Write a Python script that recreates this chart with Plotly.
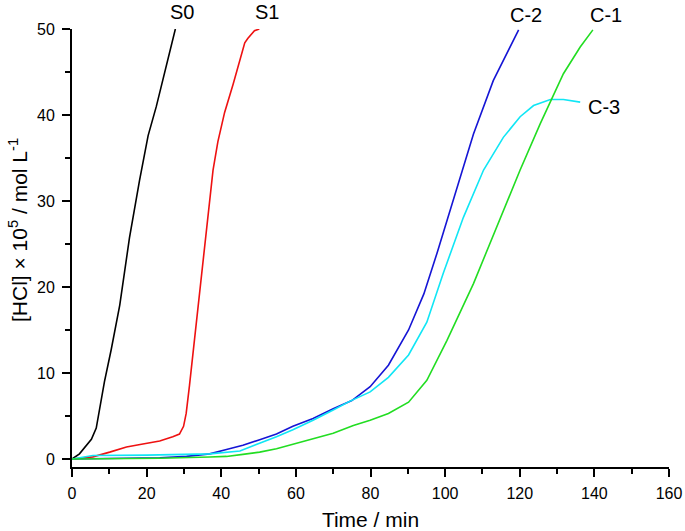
import plotly.graph_objects as go

# ── data ─────────────────────────────────────────────────────
s0_t = [0, 2.0, 5.2, 6.5, 8.7, 10.5, 12.8, 15.4, 18.1, 20.4, 22.6, 25.3, 27.7]
s0_c = [0, 0.6, 2.3, 3.6, 9.0, 12.7, 17.9, 25.7, 32.4, 37.6, 41.0, 45.8, 50.0]

s1_t = [0, 5.6, 10.1, 14.6, 19.0, 23.5, 27.0, 28.8, 29.9, 30.6, 31.5, 32.9, 34.2,
        36.0, 37.8, 39.1, 40.9, 43.2, 44.9, 46.3, 47.1, 48.0, 48.9, 50.2]
s1_c = [0, 0.25, 0.8, 1.4, 1.75, 2.1, 2.6, 2.9, 3.8, 5.3, 8.6, 14.2, 19.8,
        27.2, 33.6, 36.9, 40.3, 43.6, 46.4, 48.4, 48.9, 49.4, 49.8, 50.0]

c2_t = [0, 23.5, 30.7, 36.9, 41.4, 45.8, 50.3, 54.8, 59.2, 64.6, 70.0, 75.0, 79.9,
        84.8, 90.2, 94.3, 97.8, 102.2, 107.6, 112.9, 117.0, 119.7]
c2_c = [0, 0.15, 0.3, 0.6, 1.1, 1.6, 2.25, 2.9, 3.8, 4.7, 5.85, 6.8, 8.4,
        10.9, 15.0, 19.2, 23.9, 30.1, 37.8, 44.0, 47.5, 49.9]

c3_t = [0, 5.6, 20.0, 32.4, 36.9, 45.0, 50.3, 54.8, 59.2, 64.6, 70.0, 74.4, 79.9,
        84.8, 90.2, 95.1, 99.5, 104.9, 110.3, 115.6, 120.1, 123.7, 128.2, 131.7, 136.2]
c3_c = [0, 0.4, 0.45, 0.5, 0.6, 0.93, 1.8, 2.6, 3.4, 4.5, 5.7, 6.7, 7.8,
        9.5, 12.1, 15.9, 21.6, 28.1, 33.6, 37.4, 39.8, 41.1, 41.8, 41.8, 41.5]

c1_t = [0, 23.5, 36.9, 41.4, 45.8, 50.3, 54.8, 59.2, 64.6, 70.0, 75.4, 79.9, 84.8,
        90.2, 95.1, 100.5, 107.6, 113.9, 120.1, 125.5, 131.7, 136.2, 139.6]
c1_c = [0, 0.08, 0.23, 0.3, 0.54, 0.8, 1.2, 1.7, 2.4, 3.0, 3.9, 4.5, 5.3,
        6.6, 9.15, 13.8, 20.4, 27.0, 33.6, 39.0, 44.8, 47.9, 49.9]

series = [
    ("S0", s0_t, s0_c, "#000000"),
    ("S1", s1_t, s1_c, "#ee1111"),
    ("C-2", c2_t, c2_c, "#1515d5"),
    ("C-3", c3_t, c3_c, "#10e6f5"),
    ("C-1", c1_t, c1_c, "#22dd22"),
]

# curve labels above the frame: x in data units, y in paper units
top_text = ["S0", "S1", "C-2", "C-1"]
top_x = [29.6, 52.2, 121.7, 143.1]
top_y = [1.039, 1.039, 1.031, 1.031]
# label sitting inside the frame (data units)
c3_label = ("C-3", 142.5, 40.9)

FONT = "Liberation Sans, Arial, sans-serif"

fig = go.Figure()
for name, t, c, col in series:
    fig.add_trace(go.Scatter(
        x=t, y=c, name=name, mode="lines",
        line=dict(color=col, width=1.6),
        showlegend=False,
    ))

for txt, lx, ly in zip(top_text, top_x, top_y):
    fig.add_annotation(
        x=lx, y=ly, xref="x", yref="paper", text=txt, showarrow=False,
        font=dict(size=20, color="black", family=FONT),
        xanchor="center", yanchor="middle",
    )
fig.add_annotation(
    x=c3_label[1], y=c3_label[2], xref="x", yref="y", text=c3_label[0],
    showarrow=False, font=dict(size=20, color="black", family=FONT),
    xanchor="center", yanchor="middle",
)

# y title as an annotation: it sits a bit above the frame's middle
fig.add_annotation(
    x=-0.0896, y=0.54, xref="paper", yref="paper",
    text="[HCl] × 10<sup>5</sup> / mol L<sup>-1</sup>",
    textangle=-90, showarrow=False,
    font=dict(size=21, color="black", family=FONT),
    xanchor="center", yanchor="middle",
)

axis_common = dict(
    showline=True, linecolor="black", linewidth=2,
    ticks="outside", ticklen=8, tickwidth=2, tickcolor="black",
    showgrid=False, zeroline=False, mirror=False, automargin=False,
    tickfont=dict(size=16, color="black", family=FONT),
)

fig.update_xaxes(
    range=[0, 160], tick0=0, dtick=20,
    minor=dict(ticks="outside", ticklen=5, tickwidth=2, tickcolor="black", dtick=10),
    title=dict(text="Time / min", font=dict(size=21, color="black", family=FONT), standoff=15),
    ticklabelstandoff=3,
    **axis_common,
)
fig.update_yaxes(
    range=[-0.93, 50], tick0=0, dtick=10,
    minor=dict(ticks="outside", ticklen=5, tickwidth=2, tickcolor="black", dtick=5, tick0=0),
    ticklabelstandoff=4,
    **axis_common,
)

fig.update_layout(
    width=685, height=531,
    margin=dict(l=72, r=16, t=29, b=64),
    plot_bgcolor="white", paper_bgcolor="white",
    font=dict(family=FONT, color="black"),
)

# drop the page's default 8px body margin so the figure fills the window
fig.write_html(
    "out.html",
    config={"displayModeBar": False},
    post_script="document.body.style.margin='0px';",
)
